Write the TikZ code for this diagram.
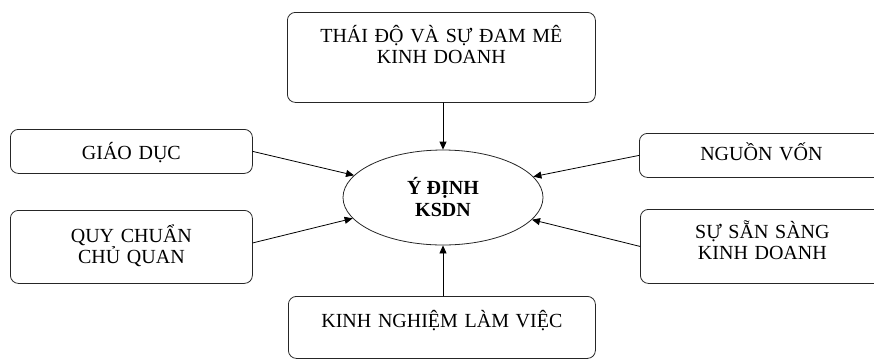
\documentclass[tikz,border=0pt]{standalone}
\usepackage{fontspec}
\setmainfont{Liberation Serif}
\usetikzlibrary{arrows.meta,shapes.geometric}

\tikzset{
  factor/.style={draw=black!85, line width=0.8pt, rounded corners=8pt,
    align=center, inner sep=0pt, anchor=north west},
  goal/.style={draw=black!85, line width=0.8pt, ellipse, inner sep=0pt,
    align=center, font=\fontsize{20}{22}\selectfont\bfseries},
  link/.style={-{Triangle[length=8pt,width=7pt]}, line width=0.8pt}
}

\begin{document}
\begin{tikzpicture}[x=1pt, y=-1pt, line join=round, line cap=round,
    font=\fontsize{20}{21.5}\selectfont]
			\useasboundingbox (0,0) rectangle (874,360);
			% muc tieu o giua
			\node[goal, minimum width=200pt, minimum height=95pt] (intent) at (443,197.5) {Ý ĐỊNH\\KSDN};
			% cac yeu to
			\node[factor, text width=308pt, text height=30pt, text depth=60pt] (attitude) at (287,12) {THÁI ĐỘ VÀ SỰ ĐAM MÊ\\KINH DOANH};
			\node[factor, text width=242pt, text height=30pt, text depth=14pt] (education) at (10,129) {GIÁO DỤC};
			\node[factor, text width=242pt, text height=32pt, text depth=41pt] (norm) at (10,210) {QUY CHUẨN\\CHỦ QUAN};
			\node[factor, text width=244pt, text height=27pt, text depth=17pt] (capital) at (639,133) {NGUỒN VỐN};
			\node[factor, text width=244pt, text height=29pt, text depth=45pt] (readiness) at (640,209) {SỰ SẴN SÀNG\\KINH DOANH};
			\node[factor, text width=307pt, text height=31pt, text depth=31pt] (experience) at (288,296) {KINH NGHIỆM LÀM VIỆC};
			% mui ten
			\draw[link] (attitude.south -| intent.north) -- (intent.north);
			\draw[link] (education.east) -- (intent.166);
			\draw[link] ([yshift=4pt]norm.east) -- (intent.193);
			\draw[link] (capital.west) -- (intent.13);
			\draw[link] (readiness.west) -- (intent.346);
			\draw[link] (experience.north -| intent.south) -- (intent.south);
		\end{tikzpicture}
\end{document}
